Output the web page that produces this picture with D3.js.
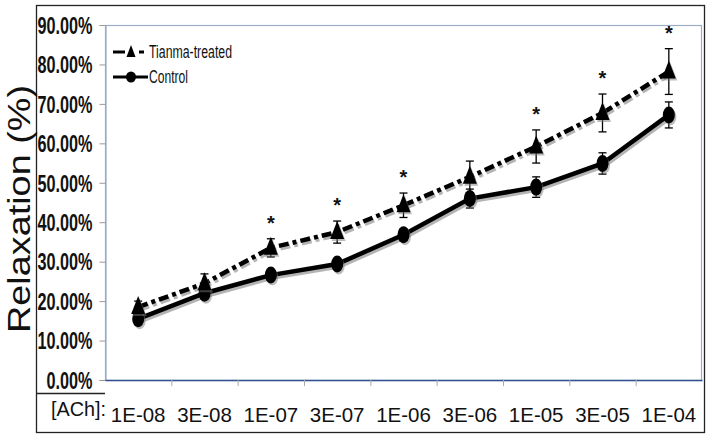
<!DOCTYPE html>
<html>
<head>
<meta charset="utf-8">
<script src="https://cdn.jsdelivr.net/npm/d3@7"></script>
<style>
html,body{margin:0;padding:0;background:#fff;}
svg{display:block;}
</style>
</head>
<body>
<svg id="chart" width="709" height="440"></svg>
<script>
const categories = ["1E-08","3E-08","1E-07","3E-07","1E-06","3E-06","1E-05","3E-05","1E-04"];
const treated = [18.5, 24.5, 33.5, 37.5, 44.3, 51.5, 59.2, 67.7, 78.2];
const treatedErr = [1.5, 2.4, 2.3, 2.8, 3.1, 4.0, 4.2, 4.8, 5.8];
const control = [15.5, 22.0, 26.6, 29.4, 36.8, 46.0, 48.9, 54.9, 67.2];
const controlErr = [1.5, 1.0, 1.3, 1.2, 1.5, 2.4, 2.6, 2.7, 3.3];
const significant = [false, false, true, true, true, false, true, true, true];
const yTicks = [0, 10, 20, 30, 40, 50, 60, 70, 80, 90];
const seriesNames = ["Tianma-treated", "Control"];
const xPrefix = "[ACh]:";
const yTitle = "Relaxation (%)";

const svg = d3.select("#chart");
const W = 709, H = 440;
const plot = {left:105, right:702, top:25, bottom:380};
const sans = "'Liberation Sans',Arial,Helvetica,sans-serif";

svg.append("rect").attr("width",W).attr("height",H).attr("fill","#fff");

// outer frame
svg.append("rect").attr("x",36.5).attr("y",5.5).attr("width",668).attr("height",427)
  .attr("fill","none").attr("stroke","#222").attr("stroke-width",1.3);
svg.append("line").attr("x1",36).attr("x2",plot.left).attr("y1",393.5).attr("y2",393.5)
  .attr("stroke","#222").attr("stroke-width",1.3);

const x = d3.scaleBand().domain(categories).range([plot.left, plot.right]).padding(0);
const y = d3.scaleLinear().domain([0, 90]).range([plot.bottom, plot.top]);
const cx = c => x(c) + x.bandwidth()/2;

// plot frame
svg.append("rect").attr("x",plot.left+0.5).attr("y",plot.top+0.5)
  .attr("width",plot.right-plot.left-1).attr("height",plot.bottom-plot.top)
  .attr("fill","none").attr("stroke","#9aacc6").attr("stroke-width",1.2);

function condense(sel, k){
  sel.each(function(){
    const w = this.getComputedTextLength();
    d3.select(this).attr("textLength", w*k).attr("lengthAdjust","spacingAndGlyphs");
  });
}

// y axis
const yAxis = d3.axisLeft(y).tickValues(yTicks).tickSize(6).tickPadding(7)
  .tickFormat(d => d3.format(".2f")(d) + "%");
const gy = svg.append("g").attr("transform",`translate(${plot.left+0.5},0)`).call(yAxis);
gy.select(".domain").attr("stroke","#9aacc6").attr("stroke-width",1.2);
gy.selectAll(".tick line").attr("stroke","#9a9a9a");
const ytxt = gy.selectAll(".tick text").attr("font-family",sans).attr("font-weight","bold")
  .attr("font-size",23).attr("fill","#111").attr("dy","0.36em");
{
  const ref = ytxt.filter(d=>d===90).node().getComputedTextLength();
  condense(ytxt, 55/ref);
}

// x axis
const xAxis = d3.axisBottom(x).tickSize(0).tickPadding(27);
const gx = svg.append("g").attr("transform",`translate(0,${plot.bottom})`).call(xAxis);
gx.select(".domain").attr("stroke","#2f4f8f").attr("stroke-width",1.3);
gx.selectAll(".tick text").attr("font-family",sans).attr("font-size",20.5).attr("fill","#111");
svg.append("g").selectAll("line").data(categories.slice(1)).join("line")
  .attr("x1",d=>x(d)+0.5).attr("x2",d=>x(d)+0.5)
  .attr("y1",plot.bottom).attr("y2",plot.bottom+6)
  .attr("stroke","#aaa").attr("stroke-width",1);

svg.append("text").attr("x",51).attr("y",416).attr("font-family",sans).attr("font-size",20.5)
  .attr("textLength",55).attr("lengthAdjust","spacingAndGlyphs")
  .attr("fill","#111").text(xPrefix);

// y title
svg.append("text").attr("transform","translate(30,209) rotate(-90)")
  .attr("text-anchor","middle").attr("font-family",sans).attr("font-size",32)
  .attr("textLength",248).attr("lengthAdjust","spacingAndGlyphs")
  .attr("fill","#111").text(yTitle);

const line = d3.line().x((d,i)=>cx(categories[i])).y(d=>y(d));
const dash = "10,4,4,4";

function drawSeries(vals, errs, kind){
  const g = svg.append("g");
  g.append("path").attr("d",line(vals)).attr("fill","none").attr("stroke","#777")
    .attr("stroke-width",4.5).attr("opacity",0.55).attr("transform","translate(1.5,2.5)")
    .attr("stroke-dasharray", kind==="tri"?dash:null);
  g.append("path").attr("d",line(vals)).attr("fill","none").attr("stroke","#000")
    .attr("stroke-width",4.5).attr("stroke-dasharray", kind==="tri"?dash:null);
  vals.forEach((v,i)=>{
    const xc = cx(categories[i]);
    const eg = g.append("g").attr("stroke","#000").attr("stroke-width",1.3);
    eg.append("line").attr("x1",xc).attr("x2",xc).attr("y1",y(v+errs[i])).attr("y2",y(v-errs[i]));
    eg.append("line").attr("x1",xc-4).attr("x2",xc+4).attr("y1",y(v+errs[i])).attr("y2",y(v+errs[i]));
    eg.append("line").attr("x1",xc-4).attr("x2",xc+4).attr("y1",y(v-errs[i])).attr("y2",y(v-errs[i]));
  });
  vals.forEach((v,i)=>{
    const xc = cx(categories[i]), yc = y(v);
    if(kind==="tri"){
      const p = `M${xc},${yc-11}L${xc+7},${yc+7}L${xc-7},${yc+7}Z`;
      g.append("path").attr("d",p).attr("fill","#777").attr("opacity",0.5).attr("transform","translate(1.5,2)");
      g.append("path").attr("d",p).attr("fill","#000");
    } else {
      g.append("ellipse").attr("cx",xc+1.5).attr("cy",yc+2).attr("rx",6).attr("ry",8.5).attr("fill","#777").attr("opacity",0.5);
      g.append("ellipse").attr("cx",xc).attr("cy",yc).attr("rx",6).attr("ry",8.5).attr("fill","#000");
    }
  });
}
drawSeries(control, controlErr, "circle");
drawSeries(treated, treatedErr, "tri");

// significance stars
svg.append("g").selectAll("text").data(categories.filter((c,i)=>significant[i])).join("text")
  .attr("x",d=>cx(d)).attr("y",d=>{const i=categories.indexOf(d);return y(treated[i]+treatedErr[i])-9;})
  .attr("text-anchor","middle").attr("font-family",sans).attr("font-weight","bold")
  .attr("font-size",20).attr("fill","#111").text("*");

// legend
const lg = svg.append("g");
const ly1 = 52, ly2 = 77;
lg.append("line").attr("x1",113).attr("x2",125).attr("y1",ly1).attr("y2",ly1).attr("stroke","#000").attr("stroke-width",3);
lg.append("line").attr("x1",139).attr("x2",144).attr("y1",ly1).attr("y2",ly1).attr("stroke","#000").attr("stroke-width",3);
lg.append("path").attr("d",`M131,${ly1-7}L135.5,${ly1+5}L126.5,${ly1+5}Z`).attr("fill","#000");
lg.append("text").attr("x",149).attr("y",ly1).attr("dy","0.35em").attr("font-family",sans)
  .attr("font-size",17.5).attr("fill","#111").attr("textLength",83).attr("lengthAdjust","spacingAndGlyphs")
  .text(seriesNames[0]);
lg.append("line").attr("x1",113).attr("x2",148).attr("y1",ly2).attr("y2",ly2).attr("stroke","#000").attr("stroke-width",3);
lg.append("ellipse").attr("cx",131).attr("cy",ly2).attr("rx",5).attr("ry",5.5).attr("fill","#000");
lg.append("text").attr("x",149).attr("y",ly2).attr("dy","0.35em").attr("font-family",sans)
  .attr("font-size",17.5).attr("fill","#111").attr("textLength",39).attr("lengthAdjust","spacingAndGlyphs")
  .text(seriesNames[1]);
</script>
</body>
</html>
